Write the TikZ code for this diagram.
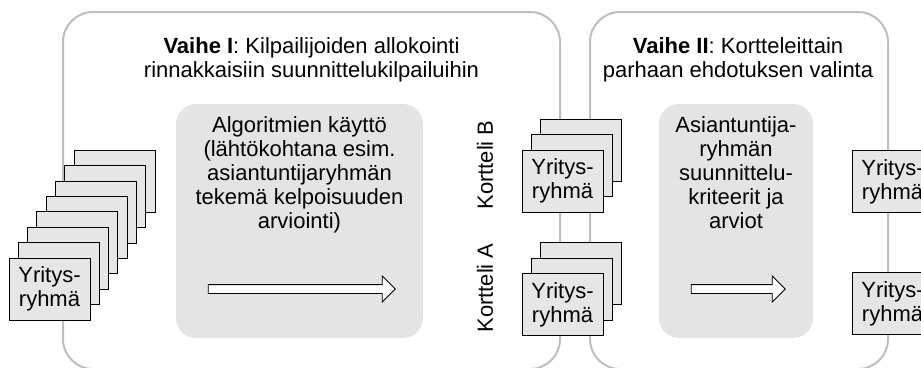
\documentclass[tikz,border=0pt]{standalone}
\usepackage{fontspec}
\setmainfont{Liberation Sans}
\usetikzlibrary{shapes.arrows}

\definecolor{framegray}{RGB}{190,190,190}
\definecolor{boxgray}{RGB}{228,228,228}
\definecolor{cardgray}{RGB}{230,230,230}

\begin{document}
\begin{tikzpicture}[x=1pt, y=-1pt,
  every node/.style={font=\fontsize{22}{24}\selectfont, inner sep=0pt},
  phase/.style={draw=framegray, line width=2pt, rounded corners=30pt},
  stage/.style={fill=boxgray, rounded corners=20pt},
  card/.style={draw, fill=cardgray, line width=0.9pt, minimum width=81pt, minimum height=62pt, align=center},
  flow/.style={single arrow, draw, fill=white, line width=0.8pt, inner sep=4pt, single arrow head extend=8.5pt}]

  \useasboundingbox (0,0) rectangle (921,367);
  \clip (0,0) rectangle (921,367);

  % Phase frames
  \draw[phase] (63,12) rectangle (560,369);
  \draw[phase] (590,12) rectangle (888,369);

  % Titles
  \node[align=center] (titleI) at (311.5,60.3) {\textbf{Vaihe I}: Kilpailijoiden allokointi\\rinnakkaisiin suunnittelukilpailuihin};
  \node[align=center] (titleII) at (738,60.3) {\textbf{Vaihe II}: Kortteleittain\\parhaan ehdotuksen valinta};

  % Grey boxes with the method
  \fill[stage] (176,104) rectangle (423,338);
  \fill[stage] (659,104) rectangle (813,338);
  \node[align=center] (algo) at (299.5,175.3) {Algoritmien käyttö\\(lähtökohtana esim.\\asiantuntijaryhmän\\tekemä kelpoisuuden\\arviointi)};
  \node[align=center] (crit) at (736,173) {Asiantuntija-\\ryhmän\\suunnittelu-\\kriteerit ja\\arviot};
  \node[flow, minimum height=187pt] (arrI) at (299.5,289) {};
  \node[flow, minimum height=94pt] (arrII) at (736,289) {};

  % Stack of groups before phase I
  \foreach \k in {7,...,1}
    \node[card] (g\k) at ({49.5+9.3*\k},{289-15.4*\k}) {};
  \node[card] (g0) at (49.5,289) {Yritys-\\ryhmä};

  % Groups per block
  \node[rotate=90] (kB) at (485,165) {Kortteli B};
  \node[rotate=90] (kA) at (485,288) {Kortteli A};
  \foreach \k in {2,1} {
    \node[card] (b\k) at ({562.5+9.3*\k},{181-15.4*\k}) {};
    \node[card] (a\k) at ({562.5+9.3*\k},{304.5-15.4*\k}) {};
  }
  \node[card] (b0) at (562.5,181) {Yritys-\\ryhmä};
  \node[card] (a0) at (562.5,304.5) {Yritys-\\ryhmä};

  % Winners
  \node[card] (wB) at (892.5,181.5) {Yritys-\\ryhmä};
  \node[card] (wA) at (892.5,303.5) {Yritys-\\ryhmä};
\end{tikzpicture}
\end{document}
